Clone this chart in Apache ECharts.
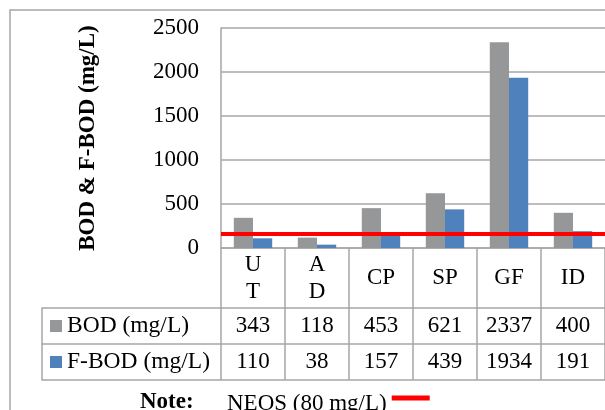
<!DOCTYPE html>
<html><head><meta charset="utf-8">
<script src="https://cdn.jsdelivr.net/npm/echarts@6/dist/echarts.min.js"></script>
<style>html,body{margin:0;padding:0;background:#fff}#c{width:605px;height:410px}</style>
</head><body><div id="c"></div>
<script>
const categories = ['U\nT', 'A\nD', 'CP', 'SP', 'GF', 'ID'];
const bod = [343, 118, 453, 621, 2337, 400];
const fbod = [110, 38, 157, 439, 1934, 191];
const yTicks = [0, 500, 1000, 1500, 2000, 2500];
const neosLevel = 160;
const seriesNames = ['BOD (mg/L)', 'F-BOD (mg/L)', 'NEOS (80 mg/L)'];

const FONT = 'Liberation Serif';
const LINE = '#a6a6a6';
const GRID = {left: 221, top: 28, bottom: 162, right: -12};
const ROW0 = 248, ROW1 = 308, ROW2 = 344, ROW3 = 380, TBL_LEFT = 42;

const chart = echarts.init(document.getElementById('c'), null, {renderer: 'canvas'});
const lbl = {fontFamily: FONT, fontSize: 23, color: '#000'};
chart.setOption({
  animation: false,
  textStyle: {fontFamily: FONT},
  grid: GRID,
  legend: [{
    data: [seriesNames[0], seriesNames[1]],
    orient: 'vertical', left: 45, top: 308, itemGap: 10, padding: 5,
    icon: 'rect', itemWidth: 12, itemHeight: 12,
    textStyle: {fontFamily: FONT, fontSize: 23.5, color: '#000', lineHeight: 26},
    selectedMode: false
  }, {
    data: [{name: seriesNames[2], icon: 'path://M0,0L38,0L38,5L0,5Z M0,16L0.01,16L0,16Z', itemStyle: {color: '#ff0000'}}],
    left: 222, top: 387, align: 'right', padding: 5,
    itemWidth: 38, itemHeight: 16,
    textStyle: {fontFamily: FONT, fontSize: 23, color: '#000'},
    selectedMode: false
  }],
  xAxis: [{
    type: 'category', data: categories, position: 'bottom',
    axisLine: {show: true, lineStyle: {color: LINE, width: 1.5}},
    axisTick: {show: true, length: ROW3 - ROW0, lineStyle: {color: LINE, width: 1.5}},
    axisLabel: Object.assign({margin: 30, verticalAlign: 'middle', lineHeight: 27, interval: 0}, lbl),
    splitLine: {show: false}
  }, {
    type: 'category', data: bod.map(String), position: 'bottom', offset: ROW1 - ROW0,
    axisLine: {show: true, lineStyle: {color: LINE, width: 1.5}},
    axisTick: {show: false},
    axisLabel: Object.assign({margin: 18, verticalAlign: 'middle', interval: 0}, lbl)
  }, {
    type: 'category', data: fbod.map(String), position: 'bottom', offset: ROW2 - ROW0,
    axisLine: {show: true, lineStyle: {color: LINE, width: 1.5}},
    axisTick: {show: false},
    axisLabel: Object.assign({margin: 18, verticalAlign: 'middle', interval: 0}, lbl)
  }, {
    type: 'category', data: categories, position: 'bottom', offset: ROW3 - ROW0,
    axisLine: {show: true, lineStyle: {color: LINE, width: 1.5}},
    axisTick: {show: false}, axisLabel: {show: false}
  }],
  yAxis: {
    type: 'value', min: yTicks[0], max: yTicks[yTicks.length - 1], interval: 500,
    name: 'BOD & F-BOD (mg/L)', nameLocation: 'middle', nameRotate: 90, nameGap: 121,
    nameTextStyle: {fontFamily: FONT, fontSize: 23, fontWeight: 'bold', color: '#000'},
    axisLine: {show: true, lineStyle: {color: LINE, width: 1.5}},
    axisTick: {show: false},
    axisLabel: Object.assign({margin: 22, formatter: v => String(v)}, lbl),
    splitLine: {show: true, lineStyle: {color: LINE, width: 1.5}}
  },
  series: [{
    name: seriesNames[0], type: 'bar', data: bod, barGap: '0%', barCategoryGap: '40%',
    itemStyle: {color: '#969799'},
    markLine: {
      silent: true, symbol: ['none', 'none'], label: {show: false},
      lineStyle: {color: '#ff0000', width: 4, type: 'solid'},
      data: [{yAxis: neosLevel}]
    }
  }, {
    name: seriesNames[1], type: 'bar', data: fbod,
    itemStyle: {color: '#4f81bd'}
  }, {
    name: seriesNames[2], type: 'line', data: [], itemStyle: {color: '#ff0000'}
  }],
  graphic: [
    {type: 'rect', shape: {x: 10, y: 10, width: 700, height: 500}, style: {fill: 'none', stroke: LINE, lineWidth: 1.5}, silent: true},
    {type: 'polyline', shape: {points: [[GRID.left, ROW1], [TBL_LEFT, ROW1], [TBL_LEFT, ROW3], [GRID.left, ROW3]]}, style: {fill: 'none', stroke: LINE, lineWidth: 1.5}, silent: true},
    {type: 'line', shape: {x1: TBL_LEFT, y1: ROW2, x2: GRID.left, y2: ROW2}, style: {stroke: LINE, lineWidth: 1.5}, silent: true},
    {type: 'text', left: 140, top: 391, style: {text: 'Note:', font: 'bold 23px "Liberation Serif"', fill: '#000'}}
  ]
});
</script></body></html>
